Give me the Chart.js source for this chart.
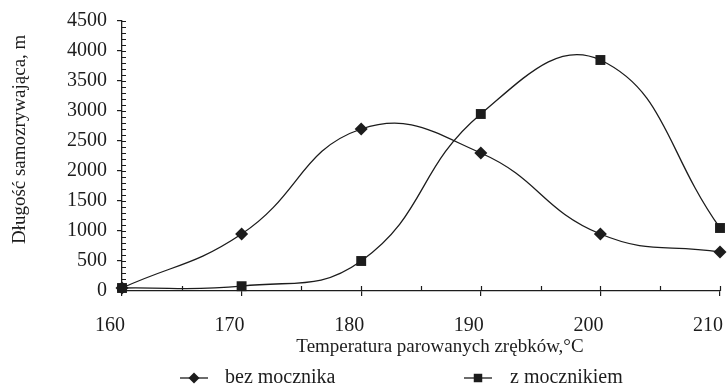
<!DOCTYPE html>
<html>
<head>
<meta charset="utf-8">
<script src="https://cdn.jsdelivr.net/npm/chart.js@4.4.1/dist/chart.umd.min.js"></script>
<style>
  body { margin: 0; background: #fff; }
  #wrap { width: 727px; height: 386px; position: relative; }
</style>
</head>
<body>
<div id="wrap"><canvas id="chart"></canvas></div>
<script>
// temperatura parowania zrębków, °C
const temperatures = [160, 170, 180, 190, 200, 210];
// długość samozrywająca, m
const bezMocznika = [50, 950, 2700, 2300, 950, 650];
const zMocznikiem = [50, 80, 500, 2950, 3850, 1050];

const xTitle = 'Temperatura parowanych zrębków,°C';
const yTitle = 'Długość samozrywająca, m';

const ink = '#1c1c1c';
Chart.defaults.font.family = "'Liberation Serif', 'Times New Roman', serif";
Chart.defaults.font.size = 19;
Chart.defaults.color = ink;

function toPoints(values) {
  return temperatures.map((t, i) => ({ x: t, y: values[i] }));
}

// titles sit a little off-centre in the scan; pad them on the leading side
const pad = n => '\u00a0'.repeat(n);

// short inner ticks every 5 °C and every 100 m, like the printed axes
const minorTicks = {
  id: 'minorTicks',
  afterDraw(chart) {
    const ctx = chart.ctx;
    const xs = chart.scales.x;
    const ys = chart.scales.y;
    const area = chart.chartArea;
    ctx.save();
    ctx.strokeStyle = ink;
    ctx.lineWidth = 1.2;
    ctx.beginPath();
    for (let v = 0; v <= 4500; v += 100) {
      const py = Math.round(ys.getPixelForValue(v)) + 0.5;
      ctx.moveTo(area.left, py);
      ctx.lineTo(area.left + 4, py);
    }
    for (let t = 160; t <= 210; t += 5) {
      const px = Math.round(xs.getPixelForValue(t)) + 0.5;
      ctx.moveTo(px, area.bottom);
      ctx.lineTo(px, area.bottom - 5);
    }
    ctx.stroke();
    ctx.restore();
  }
};

// legend under the axis title, line sample with the marker
const lineLegend = {
  id: 'lineLegend',
  afterDraw(chart) {
    const ctx = chart.ctx;
    const items = [
      { ds: chart.data.datasets[0], cx: 194, tx: 225 },
      { ds: chart.data.datasets[1], cx: 478, tx: 510 }
    ];
    const y = 378;
    ctx.save();
    items.forEach(it => {
      ctx.strokeStyle = ink;
      ctx.fillStyle = ink;
      ctx.lineWidth = 1.3;
      ctx.beginPath();
      ctx.moveTo(it.cx - 14, y);
      ctx.lineTo(it.cx + 14, y);
      ctx.stroke();
      Chart.helpers.drawPoint(ctx, {
        pointStyle: it.ds.pointStyle,
        radius: it.ds.pointRadius - 1,
        rotation: 0,
        borderWidth: 0
      }, it.cx, y);
      ctx.font = "20px 'Liberation Serif', serif";
      ctx.textBaseline = 'middle';
      ctx.textAlign = 'left';
      ctx.fillText(it.ds.label, it.tx, y);
    });
    ctx.restore();
  }
};

new Chart(document.getElementById('chart'), {
  type: 'line',
  data: {
    datasets: [
      {
        label: 'bez mocznika',
        data: toPoints(bezMocznika),
        borderColor: ink,
        backgroundColor: ink,
        borderWidth: 1.3,
        pointStyle: 'rectRot',
        pointRadius: 6.5,
        pointBorderWidth: 0,
        tension: 0.45,
        clip: false
      },
      {
        label: 'z mocznikiem',
        data: toPoints(zMocznikiem),
        borderColor: ink,
        backgroundColor: ink,
        borderWidth: 1.3,
        pointStyle: 'rect',
        pointRadius: 7,
        pointBorderWidth: 0,
        tension: 0.45,
        clip: false
      }
    ]
  },
  options: {
    responsive: true,
    maintainAspectRatio: false,
    animation: false,
    layout: { padding: { left: 0, right: 4, top: 21, bottom: 25 } },
    plugins: {
      legend: { display: false },
      tooltip: { enabled: false }
    },
    scales: {
      x: {
        type: 'linear',
        min: 160,
        max: 210,
        ticks: { stepSize: 10, padding: 18, labelOffset: -12, color: ink, font: { size: 20 }, callback: v => String(v) },
        grid: { drawOnChartArea: false, drawTicks: true, tickLength: 5, color: ink, lineWidth: 1.2 },
        border: { color: ink, width: 1.3 },
        title: { display: true, text: pad(8) + xTitle, color: ink, padding: { top: 0, bottom: 3 } },
        afterFit(scale) {
          scale.height = 70;
          scale.paddingLeft = 0;
          scale.paddingRight = 0;
        }
      },
      y: {
        min: 0,
        max: 4500,
        ticks: { stepSize: 500, padding: 10, color: ink, font: { size: 20 }, callback: v => String(v) },
        grid: { drawOnChartArea: false, drawTicks: true, tickLength: 5, color: ink, lineWidth: 1.2 },
        border: { color: ink, width: 1.3 },
        title: { display: true, text: pad(7) + yTitle, color: ink, padding: { top: 9, bottom: 0 } },
        afterFit(scale) {
          scale.width = 122;
          scale.paddingTop = 0;
          scale.paddingBottom = 0;
        }
      }
    }
  },
  plugins: [minorTicks, lineLegend]
});
</script>
</body>
</html>
